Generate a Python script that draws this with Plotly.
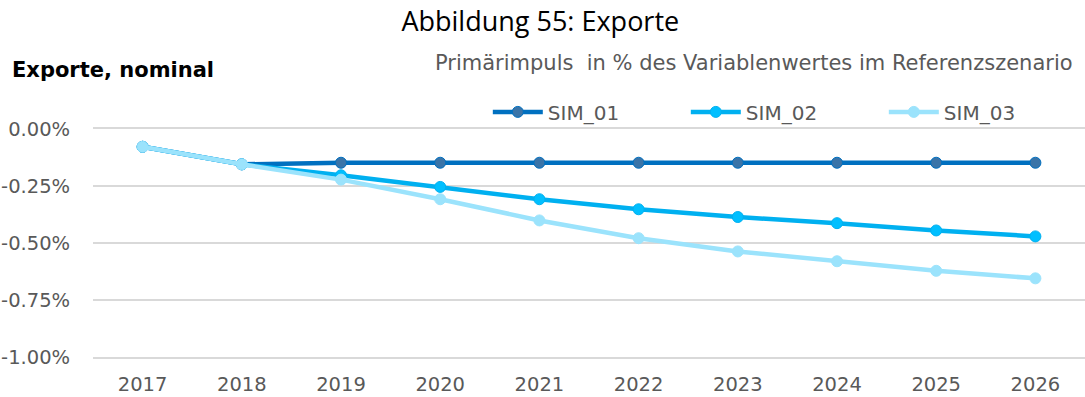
import plotly.graph_objects as go

years = ["2017", "2018", "2019", "2020", "2021", "2022", "2023", "2024", "2025", "2026"]
sim_01 = [-0.078, -0.155, -0.148, -0.148, -0.148, -0.148, -0.148, -0.148, -0.148, -0.148]
sim_02 = [-0.078, -0.155, -0.203, -0.254, -0.308, -0.352, -0.386, -0.413, -0.445, -0.471]
sim_03 = [-0.078, -0.155, -0.222, -0.308, -0.401, -0.479, -0.537, -0.580, -0.622, -0.655]
y_ticks = [0.0, -0.25, -0.5, -0.75, -1.0]
y_tick_labels = ["0.00%", "-0.25%", "-0.50%", "-0.75%", "-1.00%"]

series = [
    ("SIM_01", sim_01, "#0070C0", "#3A74A8"),
    ("SIM_02", sim_02, "#00B0F0", "#00BFFF"),
    ("SIM_03", sim_03, "#9BE3FC", "#9BE3FC"),
]

fig = go.Figure()
for name, vals, line_col, fill_col in series:
    fig.add_trace(go.Scatter(
        x=years, y=vals, name=name, mode="lines+markers",
        line=dict(color=line_col, width=4.5),
        marker=dict(size=11, color=fill_col, line=dict(color=line_col, width=1)),
    ))

tick_font = dict(family="DejaVu Sans, sans-serif", size=19.5, color="#595959")

fig.update_layout(
    width=1085, height=397,
    margin=dict(l=93, r=0, t=129, b=40, autoexpand=False),
    paper_bgcolor="white", plot_bgcolor="white",
    title=dict(text="Abbildung 55: Exporte", x=0.498, xref="container", xanchor="center",
               y=0.945, yref="container", yanchor="middle",
               font=dict(family="Open Sans, sans-serif", size=27, color="#000000")),
    showlegend=True,
    legend=dict(orientation="h", x=0.398, xanchor="left", y=1.075, yanchor="middle",
                font=dict(family="DejaVu Sans, sans-serif", size=20, color="#595959"),
                entrywidth=133, entrywidthmode="pixels", itemwidth=50,
                bgcolor="rgba(0,0,0,0)"),
    xaxis=dict(type="category", range=[-0.5, 9.5], showgrid=False,
               showline=True, linecolor="#D9D9D9", linewidth=1.5, mirror=True,
               zeroline=False, tickfont=tick_font, ticks="outside", ticklen=9,
               tickcolor="rgba(0,0,0,0)"),
    yaxis=dict(range=[-1.0, 0.0], tickvals=y_ticks, ticktext=y_tick_labels,
               showgrid=True, gridcolor="#D9D9D9", gridwidth=1.5, zeroline=False,
               showline=False, tickfont=tick_font, ticks="outside", ticklen=18,
               tickcolor="rgba(0,0,0,0)"),
    annotations=[
        dict(text="<b>Exporte, nominal</b>", xref="paper", yref="paper",
             x=-0.0837, y=1.259, xanchor="left", yanchor="middle", showarrow=False,
             font=dict(family="DejaVu Sans, sans-serif", size=21, color="#000000")),
        dict(text="Primärimpuls  in % des Variablenwertes im Referenzszenario",
             xref="paper", yref="paper", x=0.99, y=1.289, xanchor="right",
             yanchor="middle", showarrow=False,
             font=dict(family="DejaVu Sans, sans-serif", size=21, color="#595959")),
    ],
)

fig.write_html("out.html")
